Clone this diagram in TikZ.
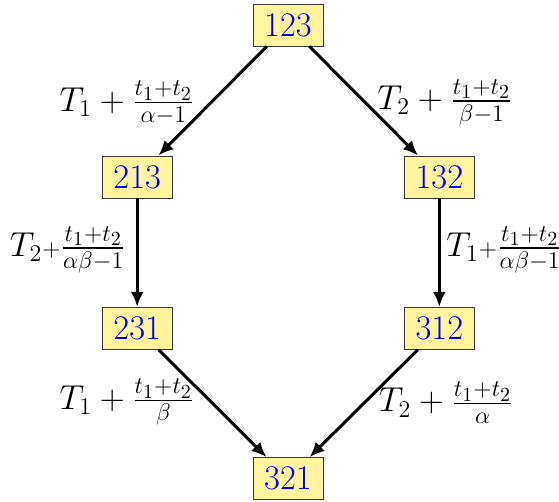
\documentclass[tikz,border=0pt]{standalone}
\usepackage{amsmath,amssymb}
\usepackage{xcolor}
\definecolor{permfill}{HTML}{FFF59E}
\definecolor{permdraw}{HTML}{3A3A3A}
\definecolor{permtext}{HTML}{0000FF}
\usepackage{tikz}
\usetikzlibrary{arrows.meta,positioning}
\tikzset{
  >={Latex[length=7.5pt,width=6.5pt]},
  perm/.style ={draw=permdraw,fill=permfill,font=\LARGE,text=permtext,
                minimum width=35pt,minimum height=21pt,inner sep=3pt},
  lbl/.style  ={font=\LARGE,inner sep=1pt},
  flow/.style ={->,draw=black,line width=1.5pt},
}
\begin{document}
\begin{tikzpicture}
\useasboundingbox (-5.061,0.439) rectangle (4.762,-8.365);
\node[perm] (p123) at ( 0.00, 0.00) {123};
\node[perm] (p213) at (-2.65,-2.67) {213};
\node[perm] (p132) at ( 2.66,-2.67) {132};
\node[perm] (p231) at (-2.65,-5.33) {231};
\node[perm] (p312) at ( 2.66,-5.33) {312};
\node[perm] (p321) at ( 0.00,-7.97) {321};
\draw[flow] (p123) -- (p213);
\draw[flow] (p123) -- (p132);
\draw[flow] (p213) -- (p231);
\draw[flow] (p132) -- (p312);
\draw[flow] (p231) -- (p321);
\draw[flow] (p312) -- (p321);
% transition rates
\node[lbl] (r1) at (-2.83,-1.37) {$T_1 + \frac{t_1+t_2}{\alpha-1}$};
\node[lbl] (r2) at ( 2.76,-1.37) {$T_2 + \frac{t_1+t_2}{\beta-1}$};
\node[lbl] (r3) at (-3.87,-3.95) {$T_2{\scriptstyle+}\frac{t_1+t_2}{\alpha\beta-1}$};
\node[lbl] (r4) at ( 3.80,-3.95) {$T_1{\scriptstyle+}\frac{t_1+t_2}{\alpha\beta-1}$};
\node[lbl] (r5) at (-2.83,-6.63) {$T_1 + \frac{t_1+t_2}{\beta}$};
\node[lbl] (r6) at ( 2.78,-6.64) {$T_2 + \frac{t_1+t_2}{\alpha}$};
\end{tikzpicture}
\end{document}
